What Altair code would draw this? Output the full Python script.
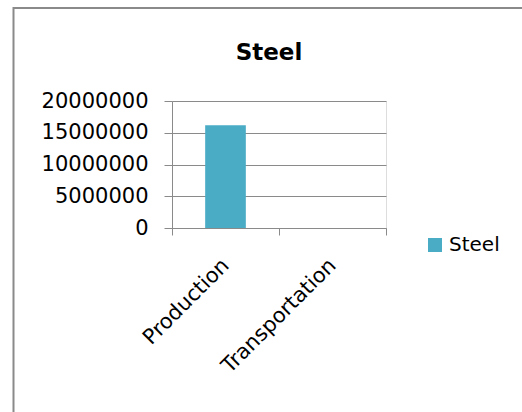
import altair as alt
import pandas as pd

# Chart data
categories = ["Production", "Transportation"]
values = [16200000, 0]
series = ["Steel", "Steel"]
y_ticks = [0, 5000000, 10000000, 15000000, 20000000]
title_text = "Steel"

df = pd.DataFrame({"category": categories, "value": values, "series": series})

FONT = "DejaVu Sans"
GRAY = "#8a8a8a"

bars = alt.Chart(df).mark_bar(width=alt.RelativeBandSize(0.38)).encode(
    x=alt.X(
        "category:N",
        sort=categories,
        scale=alt.Scale(paddingInner=0, paddingOuter=0),
        axis=alt.Axis(
            title=None,
            labelAngle=-45,
            labelAlign="right",
            labelBaseline="middle",
            labelPadding=27,
            labelFontSize=21,
            labelFont=FONT,
            labelColor="black",
            tickBand="extent",
            tickSize=7,
            tickColor=GRAY,
            domainColor=GRAY,
            grid=False,
        ),
    ),
    y=alt.Y(
        "value:Q",
        scale=alt.Scale(domain=[0, 20000000], nice=False),
        axis=alt.Axis(
            title=None,
            values=y_ticks,
            format="d",
            labelFontSize=21,
            labelFont=FONT,
            labelColor="black",
            labelPadding=16,
            tickSize=8,
            tickColor=GRAY,
            domainColor=GRAY,
            gridColor=GRAY,
            gridWidth=1,
        ),
    ),
    color=alt.Color(
        "series:N",
        scale=alt.Scale(range=["#4BACC6"]),
        legend=alt.Legend(
            title=None,
            orient="none",
            legendX=253,
            legendY=134,
            symbolType="square",
            symbolSize=196,
            symbolStrokeWidth=0,
            labelFontSize=20,
            labelFont=FONT,
            labelColor="black",
            labelOffset=4,
        ),
    ),
)

# Chart title
title_df = pd.DataFrame({"t": [title_text]})
title = alt.Chart(title_df).mark_text(
    font=FONT, fontSize=23, fontWeight="bold", color="black",
    align="center", baseline="alphabetic",
).encode(text="t:N", x=alt.value(97), y=alt.value(-41))

# Chart frame (top and left edges)
frame_df = pd.DataFrame({"k": [0]})
frame_top = alt.Chart(frame_df).mark_rule(color=GRAY, strokeWidth=2).encode(
    x=alt.value(-159), x2=alt.value(360), y=alt.value(-93)
)
frame_left = alt.Chart(frame_df).mark_rule(color=GRAY, strokeWidth=2).encode(
    x=alt.value(-158.5), y=alt.value(-94), y2=alt.value(320)
)

chart = alt.layer(bars, title, frame_top, frame_left).properties(
    width=214,
    height=127,
    padding={"left": 172, "top": 101, "right": 136, "bottom": 184},
    autosize=alt.AutoSizeParams(type="none"),
).configure_view(stroke=None).configure(background="white")

chart.save("out.html", embed_options={"renderer": "svg", "actions": False})
